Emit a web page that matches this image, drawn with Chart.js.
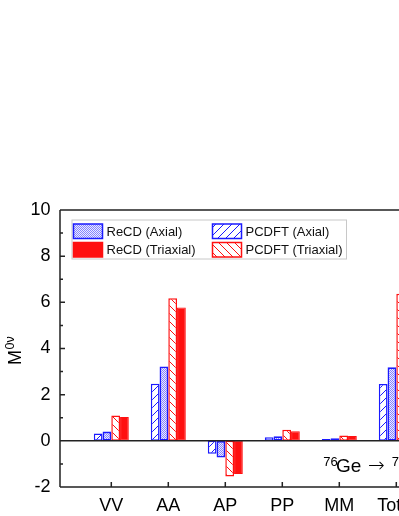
<!DOCTYPE html>
<html>
<head>
<meta charset="utf-8">
<script src="https://cdn.jsdelivr.net/npm/chart.js@4.4.0/dist/chart.umd.min.js"></script>
<style>
  html, body { margin: 0; padding: 0; background: #fff; overflow: hidden; }
  #wrap { width: 460px; height: 516px; }
</style>
</head>
<body>
<div id="wrap"><canvas id="chart" width="460" height="516"></canvas></div>
<script>
// values (Total / ReCD triaxial is outside the crop, estimated)
const categories = ['VV', 'AA', 'AP', 'PP', 'MM', 'Total'];
const categoryPos = [1, 2, 3, 4, 5, 6];
const pcdftAxial = [0.32, 2.47, -0.56, 0.16, 0.08, 2.46];
const recdAxial = [0.40, 3.22, -0.72, 0.20, 0.11, 3.19];
const pcdftTriaxial = [1.10, 6.18, -1.55, 0.48, 0.23, 6.37];
const recdTriaxial = [1.03, 5.78, -1.44, 0.42, 0.21, 5.95];
const yTicks = [-2, 0, 2, 4, 6, 8, 10];
const yMinorTicks = [-1, 1, 3, 5, 7, 9];

const BLUE = '#1a1aff';
const RED = '#ff1010';
const FONT = '"Liberation Sans", Arial, sans-serif';

function hatch(color, dir) {
  const c = document.createElement('canvas');
  c.width = 8; c.height = 8;
  const g = c.getContext('2d');
  g.fillStyle = '#fff';
  g.fillRect(0, 0, 8, 8);
  g.strokeStyle = color;
  g.lineWidth = 1;
  g.beginPath();
  if (dir === '/') {
    g.moveTo(-1, 9); g.lineTo(9, -1);
    g.moveTo(-1, 1); g.lineTo(1, -1);
    g.moveTo(7, 9); g.lineTo(9, 7);
  } else {
    g.moveTo(-1, -1); g.lineTo(9, 9);
    g.moveTo(7, -1); g.lineTo(9, 1);
    g.moveTo(-1, 7); g.lineTo(1, 9);
  }
  g.stroke();
  return g.createPattern(c, 'repeat');
}

function dots(color) {
  const c = document.createElement('canvas');
  c.width = 2; c.height = 2;
  const g = c.getContext('2d');
  g.fillStyle = '#ececff';
  g.fillRect(0, 0, 2, 2);
  g.fillStyle = color;
  g.fillRect(0, 0, 1, 1);
  g.fillRect(1, 1, 1, 1);
  return g.createPattern(c, 'repeat');
}

const toPoints = arr => arr.map((v, i) => ({ x: categoryPos[i], y: v }));

const framePlugin = {
  id: 'frame',
  afterDatasetsDraw(chart) {
    const { ctx, chartArea: a, scales: { x, y } } = chart;
    ctx.save();
    ctx.strokeStyle = '#222';
    ctx.lineWidth = 1.5;
    ctx.beginPath();
    // zero line
    const y0 = y.getPixelForValue(0);
    ctx.moveTo(a.left, y0); ctx.lineTo(a.right, y0);
    // frame
    ctx.moveTo(a.left, a.top); ctx.lineTo(a.right, a.top);
    ctx.moveTo(a.left, a.top); ctx.lineTo(a.left, a.bottom);
    ctx.moveTo(a.left, a.bottom); ctx.lineTo(a.right, a.bottom);
    ctx.moveTo(a.right, a.top); ctx.lineTo(a.right, a.bottom);
    // y ticks, inward
    yTicks.forEach(v => {
      const p = y.getPixelForValue(v);
      ctx.moveTo(a.left, p); ctx.lineTo(a.left + 5, p);
    });
    yMinorTicks.forEach(v => {
      const p = y.getPixelForValue(v);
      ctx.moveTo(a.left, p); ctx.lineTo(a.left + 3, p);
    });
    // x ticks, inward
    categoryPos.forEach(v => {
      const p = x.getPixelForValue(v);
      ctx.moveTo(p, a.bottom); ctx.lineTo(p, a.bottom - 5);
    });
    ctx.stroke();
    ctx.restore();
  },
  afterDraw(chart) {
    const { ctx } = chart;
    const sets = chart.data.datasets;
    ctx.save();

    // legend box
    ctx.strokeStyle = '#c8c8c8';
    ctx.lineWidth = 1;
    ctx.strokeRect(72, 220, 274.5, 39);
    const items = [
      { ds: sets[1], sx: 73.5, sy: 224 },
      { ds: sets[3], sx: 73.5, sy: 242.5 },
      { ds: sets[0], sx: 212.5, sy: 224 },
      { ds: sets[2], sx: 212.5, sy: 242.5 }
    ];
    ctx.font = '13px ' + FONT;
    ctx.textBaseline = 'middle';
    ctx.textAlign = 'left';
    items.forEach(it => {
      ctx.fillStyle = it.ds.backgroundColor;
      ctx.fillRect(it.sx, it.sy, 29, 14.5);
      ctx.strokeStyle = it.ds.borderColor;
      ctx.lineWidth = 1.5;
      ctx.strokeRect(it.sx, it.sy, 29, 14.5);
      ctx.fillStyle = '#111';
      ctx.fillText(it.ds.label, it.sx + 33, it.sy + 8);
    });

    // reaction label
    ctx.fillStyle = '#000';
    ctx.textBaseline = 'alphabetic';
    const parts = [
      ['76', 13, 466, 323.3, FONT],
      ['Ge', 19, 472, 336, FONT],
      ['\u2192', 20, 472, 368, '"DejaVu Sans Light", "DejaVu Sans", sans-serif'],
      ['76', 13, 466, 391.7, FONT]
    ];
    let px = 0;
    parts.forEach(([t, s, b, x0, f]) => {
      ctx.font = s + 'px ' + f;
      ctx.fillText(t, x0, b);
      px = x0 + ctx.measureText(t).width;
    });
    ctx.font = '19px ' + FONT;
    ctx.fillText('Se', px, 472);

    // y title M^{0ν}
    ctx.translate(21, 365);
    ctx.rotate(-Math.PI / 2);
    ctx.font = '18px ' + FONT;
    ctx.fillText('M', 0, 0);
    const mw = ctx.measureText('M').width;
    ctx.font = '12.5px ' + FONT;
    ctx.fillText('0\u03bd', mw + 0.5, -7);
    ctx.restore();
  }
};

const ctx = document.getElementById('chart').getContext('2d');

new Chart(ctx, {
  type: 'bar',
  data: {
    datasets: [
      {
        label: 'PCDFT (Axial)',
        data: toPoints(pcdftAxial),
        backgroundColor: hatch(BLUE, '/'),
        borderColor: BLUE,
        borderWidth: 1.5,
        borderSkipped: false
      },
      {
        label: 'ReCD (Axial)',
        data: toPoints(recdAxial),
        backgroundColor: dots('#8484ff'),
        borderColor: BLUE,
        borderWidth: 1.8,
        borderSkipped: false
      },
      {
        label: 'PCDFT (Triaxial)',
        data: toPoints(pcdftTriaxial),
        backgroundColor: hatch(RED, '\\'),
        borderColor: RED,
        borderWidth: 1.5,
        borderSkipped: false
      },
      {
        label: 'ReCD (Triaxial)',
        data: toPoints(recdTriaxial),
        backgroundColor: RED,
        borderColor: RED,
        borderWidth: 1,
        borderSkipped: false
      }
    ]
  },
  options: {
    responsive: false,
    animation: false,
    layout: { padding: { top: 210, left: 0, right: 6.7, bottom: 0 } },
    datasets: { bar: { categoryPercentage: 0.614, barPercentage: 1 } },
    plugins: {
      legend: { display: false },
      tooltip: { enabled: false }
    },
    scales: {
      x: {
        type: 'linear',
        offset: false,
        min: 0.1,
        max: 7,
        grid: { display: false },
        border: { display: false },
        afterBuildTicks: s => { s.ticks = categoryPos.map(v => ({ value: v })); },
        afterFit: s => { s.height = 29; },
        ticks: {
          autoSkip: false,
          maxRotation: 0,
          padding: 0,
          color: '#000',
          font: { family: FONT, size: 18 },
          callback: v => categories[categoryPos.indexOf(v)] || ''
        }
      },
      y: {
        min: -2,
        max: 10,
        grid: { display: false },
        border: { display: false },
        afterBuildTicks: s => { s.ticks = yTicks.map(v => ({ value: v })); },
        afterFit: s => { s.width = 60; },
        ticks: {
          padding: 1.5,
          color: '#000',
          font: { family: FONT, size: 18 }
        }
      }
    }
  },
  plugins: [framePlugin]
});
</script>
</body>
</html>
